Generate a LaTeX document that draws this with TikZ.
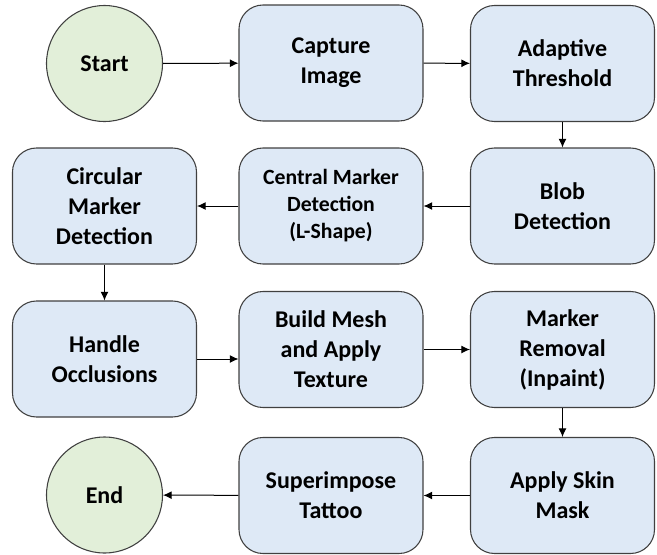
\documentclass[tikz,border=0pt]{standalone}
\usepackage{fontspec}
\setmainfont{Carlito}
\usetikzlibrary{arrows.meta}

\definecolor{boxblue}{HTML}{DEE9F6}
\definecolor{termgreen}{HTML}{E2EFD9}
\definecolor{edgegray}{HTML}{404040}

\tikzset{
  stepbox/.style={draw=edgegray, fill=boxblue, rounded corners=18pt,
    minimum width=138pt, minimum height=87pt, align=center, line width=0.8pt,
    font=\fontsize{18}{22.5}\selectfont\bfseries},
  termnode/.style={circle, draw=edgegray, fill=termgreen, minimum size=87pt,
    inner sep=0pt, line width=0.8pt, font=\fontsize{18}{22.5}\selectfont\bfseries},
  flow/.style={-{Latex[length=6.5pt,width=6pt]}, line width=0.75pt}
}

\begin{document}
\begin{tikzpicture}[x=0.75pt,y=-0.75pt]
      \useasboundingbox (0,0) rectangle (657,554);

      \node[termnode] (start) at (104.5,63.5) {Start};
      \node[stepbox] (capture) at (331,63) {Capture\\Image};
      \node[stepbox] (thresh) at (562.5,63.5) {Adaptive\\Threshold};

      \node[stepbox] (blob) at (562.5,206) {Blob\\Detection};
      \node[stepbox, font=\fontsize{16.3}{20.3}\selectfont\bfseries] (central) at (331,206) {Central Marker\\Detection\\(L-Shape)};
      \node[stepbox] (circular) at (104.5,206) {Circular\\Marker\\Detection};

      \node[stepbox] (occl) at (104.5,359) {Handle\\Occlusions};
      \node[stepbox] (mesh) at (331,349.5) {Build Mesh\\and Apply\\Texture};
      \node[stepbox] (removal) at (562.5,349.5) {Marker\\Removal\\(Inpaint)};

      \node[stepbox] (skin) at (562.5,495.5) {Apply Skin\\Mask};
      \node[stepbox] (tattoo) at (331,495.5) {Superimpose\\Tattoo};
      \node[termnode] (end) at (104.5,495) {End};

      \draw[flow] (start) -- (capture);
      \draw[flow] (capture) -- (thresh);
      \draw[flow] (thresh) -- (blob);
      \draw[flow] (blob) -- (central);
      \draw[flow] (central) -- (circular);
      \draw[flow] (circular) -- (occl);
      \draw[flow] (occl.east) -- (occl.east -| mesh.west);
      \draw[flow] (mesh) -- (removal);
      \draw[flow] (removal) -- (skin);
      \draw[flow] (skin) -- (tattoo);
      \draw[flow] (tattoo) -- (end);
\end{tikzpicture}
\end{document}
